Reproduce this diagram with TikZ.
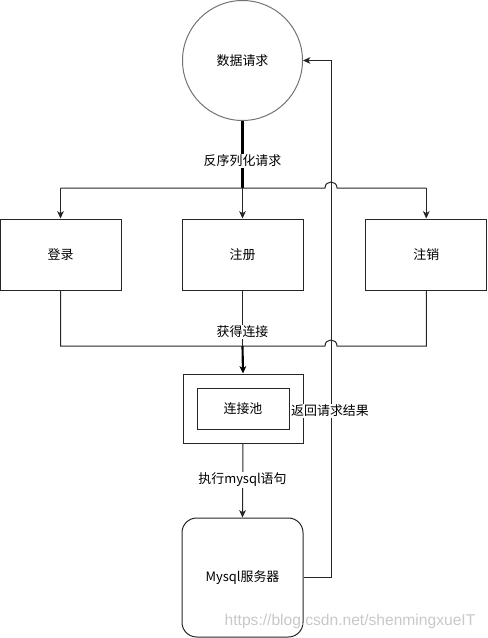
\documentclass[tikz,border=0pt]{standalone}
\usepackage{fontspec}
\setmainfont{Noto Sans CJK SC}
\newfontfamily\urlfont{Liberation Sans}
\usetikzlibrary{arrows.meta,calc}
\definecolor{LineGray}{HTML}{262626}
\definecolor{MarkGray}{HTML}{C8C8C8}

\begin{document}
\begin{tikzpicture}[x=0.75pt,y=-0.75pt,
    font=\fontsize{9.7}{12}\selectfont,
    box/.style={draw=LineGray, line width=0.75pt, minimum width=90.75pt, minimum height=53.25pt},
    lbl/.style={fill=white, inner sep=1pt},
    link/.style={draw=LineGray, line width=0.75pt},
    boldlink/.style={draw=black, line width=1.6pt},
    tip/.style={-{Stealth[length=5.5pt,width=5pt,inset=1.5pt]}}]
  \useasboundingbox (0,0) rectangle (487,638);

  % request and handlers
  \node[circle, draw=black!55, line width=0.75pt, minimum size=90pt] (req) at (242.5,60.5) {数据请求};
  \node[box] (login) at (60.5,254.5) {登录};
  \node[box] (reg) at (242.5,254.5) {注册};
  \node[box] (logout) at (426.25,254.5) {注销};

  % pool and server
  \node[box, minimum width=90pt, minimum height=51.75pt] (pool) at (243,408.5) {};
  \node[draw=LineGray, line width=0.75pt, minimum width=69pt, minimum height=30.75pt] (poolin) at (243,408.5) {连接池};
  \node[box, rounded corners=11pt, minimum height=89.25pt] (mysql) at (242.5,577.5) {Mysql服务器};

  \coordinate (split) at (242.5,188);
  \coordinate (merge) at (242.5,346);
  \coordinate (ret) at (331,577.5);
  \coordinate (hopA1) at (325,188);
  \coordinate (hopA2) at (337,188);
  \coordinate (hopB1) at (325,346);
  \coordinate (hopB2) at (337,346);

  % return path
  \draw[link, tip] (mysql.east) -- (ret) |- (req.east);

  % dispatch
  \draw[boldlink] (req.south) -- (split);
  \draw[link] (login.north |- split) -- (hopA1) .. controls +(0,-8) and +(0,-8) .. (hopA2) -- (logout.north |- split);
  \draw[link, tip] (login.north |- split) -- (login.north);
  \draw[link, tip] (split) -- (reg.north);
  \draw[link, tip] (logout.north |- split) -- (logout.north);

  % collect
  \draw[link] (login.south) -- (login.south |- merge) -- (hopB1) .. controls +(0,-8) and +(0,-8) .. (hopB2) -- (logout.south |- merge) -- (logout.south);
  \draw[link] (reg.south) -- (merge);
  \draw[boldlink, tip] (merge) -- (pool.north);
  \draw[link, tip] (pool.south) -- (mysql.north);

  % labels
  \node[lbl] (lblA) at (242.5,161) {反序列化请求};
  \node[lbl] (lblB) at (242.5,332) {获得连接};
  \node[lbl] (lblC) at (242.5,480) {执行mysql语句};
  \node[lbl] (lblD) at (330,411) {返回请求结果};

  \node[text=MarkGray, font=\urlfont\fontsize{11.7}{14}\selectfont] (mark) at (350,621) {https://blog.csdn.net/shenmingxueIT};
\end{tikzpicture}
\end{document}
